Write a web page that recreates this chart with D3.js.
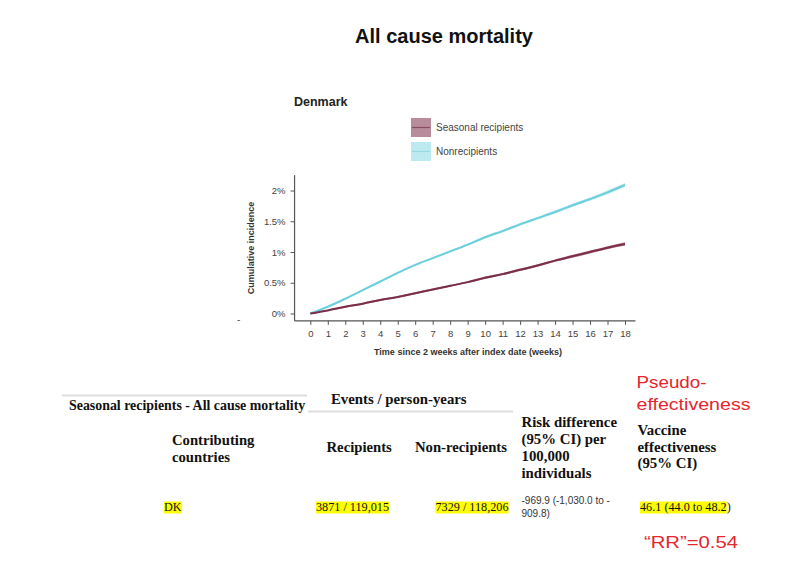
<!DOCTYPE html>
<html>
<head>
<meta charset="utf-8">
<script src="https://cdn.jsdelivr.net/npm/d3@7"></script>
<style>
  body { margin: 0; background: #fff; }
  svg { display: block; }
</style>
</head>
<body>
<svg id="chart" width="800" height="573"></svg>
<script>
// ------------------------
// Data
// ------------------------
const weeks = d3.range( 0, 19 );
const nonrecipients = [ 0, 0.11, 0.24, 0.38, 0.52, 0.66, 0.79, 0.90, 1.01, 1.12, 1.24, 1.34, 1.45, 1.55, 1.65, 1.76, 1.86, 1.97, 2.09 ];
const nonrecipientsLow = [ 0, 0.10, 0.225, 0.365, 0.505, 0.645, 0.775, 0.885, 0.99, 1.10, 1.22, 1.32, 1.43, 1.53, 1.625, 1.735, 1.835, 1.94, 2.06 ];
const nonrecipientsHigh = [ 0, 0.12, 0.255, 0.395, 0.535, 0.675, 0.805, 0.915, 1.03, 1.14, 1.26, 1.36, 1.47, 1.57, 1.675, 1.785, 1.885, 2.00, 2.12 ];
const seasonal = [ 0, 0.05, 0.11, 0.16, 0.22, 0.27, 0.33, 0.39, 0.45, 0.51, 0.58, 0.64, 0.71, 0.78, 0.86, 0.93, 1.00, 1.07, 1.13 ];
const seasonalLow = [ 0, 0.04, 0.095, 0.145, 0.205, 0.255, 0.315, 0.375, 0.435, 0.495, 0.56, 0.62, 0.69, 0.76, 0.84, 0.905, 0.975, 1.045, 1.10 ];
const seasonalHigh = [ 0, 0.06, 0.125, 0.175, 0.235, 0.285, 0.345, 0.405, 0.465, 0.525, 0.60, 0.66, 0.73, 0.80, 0.88, 0.955, 1.025, 1.095, 1.16 ];
const yTicks = [ 0, 0.5, 1, 1.5, 2 ];
const legendLabels = [ 'Seasonal recipients', 'Nonrecipients' ];

// table
const tableCountry = [ 'DK' ];
const tableRecipients = [ '3871 / 119,015' ];
const tableNonrecipients = [ '7329 / 118,206' ];
const tableRiskDiff = [ [ '-969.9 (-1,030.0 to -', '909.8)' ] ];
const tableVE = [ '46.1 (44.0 to 48.2' ];

const colors = {
	seasonLine: '#7b2d4a',
	seasonBand: '#b98c9c',
	nonLine: '#6ccfdc',
	nonBand: '#bde9f0',
	red: '#e5262d',
};

const svg = d3.select( '#chart' );

// title
svg.append( 'text' )
	.attr( 'x', 444 ).attr( 'y', 43 )
	.attr( 'text-anchor', 'middle' )
	.style( 'font', 'bold 20px "Liberation Sans", Arial, sans-serif' )
	.attr( 'fill', '#111' )
	.text( 'All cause mortality' );

svg.append( 'text' )
	.attr( 'x', 294 ).attr( 'y', 106 )
	.style( 'font', 'bold 12.5px "Liberation Sans", Arial, sans-serif' )
	.attr( 'fill', '#222' )
	.text( 'Denmark' );

// ------------------------
// Chart
// ------------------------
const x = d3.scaleLinear().domain( [ 0, 18 ] ).range( [ 310.3, 625 ] );
const y = d3.scaleLinear().domain( [ 0, 2 ] ).range( [ 313.5, 190.5 ] );
const xAxisY = y( -0.12 );
const yAxisX = x( -0.9 );

const area = d3.area()
	.curve( d3.curveMonotoneX )
	.x( ( d, i ) => x( weeks[ i ] ) )
	.y0( d => y( d[ 0 ] ) )
	.y1( d => y( d[ 1 ] ) );
const line = d3.line()
	.curve( d3.curveMonotoneX )
	.x( ( d, i ) => x( weeks[ i ] ) )
	.y( d => y( d ) );

const plot = svg.append( 'g' );
plot.append( 'path' )
	.datum( nonrecipientsLow.map( ( v, i ) => [ v, nonrecipientsHigh[ i ] ] ) )
	.attr( 'd', area ).attr( 'fill', colors.nonBand );
plot.append( 'path' )
	.datum( seasonalLow.map( ( v, i ) => [ v, seasonalHigh[ i ] ] ) )
	.attr( 'd', area ).attr( 'fill', colors.seasonBand );
plot.append( 'path' )
	.datum( nonrecipients )
	.attr( 'd', line ).attr( 'fill', 'none' )
	.attr( 'stroke', colors.nonLine ).attr( 'stroke-width', 2 );
plot.append( 'path' )
	.datum( seasonal )
	.attr( 'd', line ).attr( 'fill', 'none' )
	.attr( 'stroke', colors.seasonLine ).attr( 'stroke-width', 2 );

// axes
const xAxis = d3.axisBottom( x ).tickValues( weeks ).tickSize( 4 ).tickPadding( 5 ).tickSizeOuter( 0 );
const xg = svg.append( 'g' ).attr( 'transform', `translate(0, ${ xAxisY })` ).call( xAxis );
xg.select( '.domain' ).attr( 'd', `M${ yAxisX },0H${ x( 18.6 ) }` );

const yAxis = d3.axisLeft( y ).tickValues( yTicks ).tickFormat( d => d + '%' )
	.tickSize( 4 ).tickPadding( 5 ).tickSizeOuter( 0 );
const yg = svg.append( 'g' ).attr( 'transform', `translate(${ yAxisX }, 0)` ).call( yAxis );
yg.select( '.domain' ).attr( 'd', `M0,${ y( 2.25 ) }V${ xAxisY }` );

[ xg, yg ].forEach( g => {
	g.select( '.domain' ).attr( 'stroke', '#555' ).attr( 'stroke-width', 1.2 );
	g.selectAll( '.tick line' ).attr( 'stroke', '#555' );
	g.selectAll( 'text' )
		.style( 'font-family', '"Liberation Sans", Arial, sans-serif' )
		.style( 'font-size', '9.5px' )
		.attr( 'fill', '#444' );
} );

svg.append( 'text' )
	.attr( 'transform', `translate(254, ${ ( y( 2.25 ) + xAxisY ) / 2 }) rotate(-90)` )
	.attr( 'text-anchor', 'middle' )
	.style( 'font', 'bold 9px "Liberation Sans", Arial, sans-serif' )
	.attr( 'fill', '#333' )
	.text( 'Cumulative incidence' );

svg.append( 'text' )
	.attr( 'x', 468 ).attr( 'y', 355 )
	.attr( 'text-anchor', 'middle' )
	.style( 'font', 'bold 9px "Liberation Sans", Arial, sans-serif' )
	.attr( 'fill', '#333' )
	.text( 'Time since 2 weeks after index date (weeks)' );

svg.append( 'text' )
	.attr( 'x', 237 ).attr( 'y', 323 )
	.style( 'font', '10px "Liberation Sans", Arial, sans-serif' )
	.attr( 'fill', '#555' )
	.text( '-' );

// legend
const legend = svg.append( 'g' ).attr( 'transform', 'translate(411, 118)' );
const legendItems = legend.selectAll( 'g' )
	.data( legendLabels )
	.join( 'g' )
	.attr( 'transform', ( d, i ) => `translate(0, ${ i * 24 })` );
legendItems.append( 'rect' )
	.attr( 'width', 20 ).attr( 'height', 19 )
	.attr( 'fill', ( d, i ) => i === 0 ? colors.seasonBand : colors.nonBand );
legendItems.append( 'line' )
	.attr( 'x1', 1 ).attr( 'x2', 19 ).attr( 'y1', 9.5 ).attr( 'y2', 9.5 )
	.attr( 'stroke', ( d, i ) => i === 0 ? '#8a4a62' : '#96d9e4' )
	.attr( 'stroke-width', 1.2 );
legendItems.append( 'text' )
	.attr( 'x', 25 ).attr( 'y', 9.5 ).attr( 'dy', '0.35em' )
	.style( 'font', '10px "Liberation Sans", Arial, sans-serif' )
	.attr( 'fill', '#444' )
	.text( d => d );

// ------------------------
// Table
// ------------------------
const serif = '"Liberation Serif", "Times New Roman", serif';
const sans = '"Liberation Sans", Arial, sans-serif';
const table = svg.append( 'g' );

table.append( 'line' )
	.attr( 'x1', 62 ).attr( 'x2', 307 ).attr( 'y1', 395.5 ).attr( 'y2', 395.5 )
	.attr( 'stroke', '#dedede' ).attr( 'stroke-width', 2 );
table.append( 'line' )
	.attr( 'x1', 308 ).attr( 'x2', 513 ).attr( 'y1', 411.5 ).attr( 'y2', 411.5 )
	.attr( 'stroke', '#dedede' ).attr( 'stroke-width', 2 );

function headText( tx, ty, lines, size, opts = {} ) {
	const t = table.append( 'text' )
		.attr( 'x', tx ).attr( 'y', ty )
		.attr( 'text-anchor', opts.anchor || 'start' )
		.style( 'font-family', opts.family || serif )
		.style( 'font-weight', opts.weight || 'bold' )
		.style( 'font-size', size + 'px' )
		.attr( 'fill', opts.fill || '#111' );
	lines.forEach( ( l, i ) => {
		const s = t.append( 'tspan' )
			.attr( 'x', tx )
			.attr( 'dy', i === 0 ? 0 : ( opts.lh || 17 ) )
			.text( l );
		if ( opts.widths ) {
			s.attr( 'textLength', opts.widths[ i ] ).attr( 'lengthAdjust', 'spacingAndGlyphs' );
		}
	} );
	return t;
}

headText( 69, 410, [ 'Seasonal recipients - All cause mortality' ], 13.9 );
headText( 331, 404, [ 'Events / person-years' ], 14.8 );
headText( 172, 445, [ 'Contributing', 'countries' ], 14.7, { lh: 16.5 } );
headText( 326.5, 452, [ 'Recipients' ], 14.7 );
headText( 415, 452, [ 'Non-recipients' ], 14.7 );
headText( 521.5, 427, [ 'Risk difference', '(95% CI) per', '100,000', 'individuals' ], 14.8, { lh: 17 } );
headText( 637.5, 435, [ 'Vaccine', 'effectiveness', '(95% CI)' ], 14.8, { lh: 16.7 } );

headText( 636.5, 388, [ 'Pseudo-', 'effectiveness' ], 17, {
	family: sans, weight: 'normal', fill: colors.red, lh: 22, widths: [ 70, 114 ],
} );
headText( 644, 548, [ '\u201CRR\u201D=0.54' ], 17, {
	family: sans, weight: 'normal', fill: colors.red, widths: [ 94 ],
} );

// body row, highlighted cells
const highlights = table.append( 'g' );
function cell( tx, ty, label, anchor ) {
	const t = table.append( 'text' )
		.attr( 'x', tx ).attr( 'y', ty )
		.attr( 'text-anchor', anchor || 'start' )
		.style( 'font-family', serif )
		.style( 'font-size', '12.2px' )
		.attr( 'fill', '#111' )
		.text( label );
	const b = t.node().getBBox();
	highlights.append( 'rect' )
		.attr( 'x', b.x ).attr( 'y', b.y + 1.5 )
		.attr( 'width', b.width ).attr( 'height', b.height - 2 )
		.attr( 'fill', '#ffff00' );
	return t;
}

tableCountry.forEach( d => cell( 164, 511, d ) );
tableRecipients.forEach( d => cell( 316, 511, d ) );
tableNonrecipients.forEach( d => cell( 508.5, 511, d, 'end' ) );
tableVE.forEach( d => {
	const t = cell( 640, 511, d );
	t.append( 'tspan' ).text( ')' );
} );

tableRiskDiff.forEach( lines => {
	headText( 521.5, 503.5, lines, 10, { family: sans, weight: 'normal', lh: 13.4, fill: '#333' } );
} );
</script>
</body>
</html>
